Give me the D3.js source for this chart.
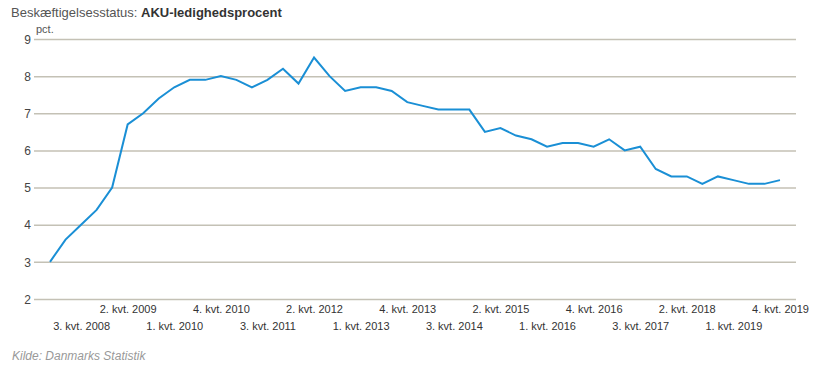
<!DOCTYPE html>
<html><head><meta charset="utf-8">
<script src="https://cdn.jsdelivr.net/npm/d3@7/dist/d3.min.js"></script>
<style>body{margin:0;background:#fff}svg{display:block;font-family:"Liberation Sans",Arial,sans-serif}</style>
</head><body>
<script>
const quarters = [];
for (let y = 2008; y <= 2019; y++) for (let q = 1; q <= 4; q++) quarters.push(q + ". kvt. " + y);
const values = [3.0,3.6,4.0,4.4,5.0,6.7,7.0,7.4,7.7,7.9,7.9,8.0,7.9,7.7,7.9,8.2,
  7.8,8.5,8.0,7.6,7.7,7.7,7.6,7.3,7.2,7.1,7.1,7.1,6.5,6.6,6.4,6.3,
  6.1,6.2,6.2,6.1,6.3,6.0,6.1,5.5,5.3,5.3,5.1,5.3,5.2,5.1,5.1,5.2];
const yTicks = [2,3,4,5,6,7,8,9];
const titleLabel = "Beskæftigelsesstatus:";
const titleValue = "AKU-ledighedsprocent";
const unitLabel = "pct.";
const sourceLabel = "Kilde: Danmarks Statistik";

const W = 820, H = 369;
const svg = d3.select("body").append("svg").attr("width", W).attr("height", H);
const x = d3.scalePoint().domain(quarters).range([50, 780]);
const y = d3.scaleLinear().domain([2, 9]).range([299, 39]);

svg.append("text").attr("x", 11).attr("y", 17).attr("font-size", 13).attr("fill", "#555").text(titleLabel);
svg.append("text").attr("x", 141).attr("y", 17).attr("font-size", 13).attr("font-weight", "bold").attr("fill", "#333").text(titleValue);

// gridlines + y labels
const yAxis = d3.axisLeft(y).tickValues(yTicks).tickSize(-(796 - 34)).tickFormat(d3.format("d")).tickPadding(3);
const ga = svg.append("g").attr("transform", "translate(34,0)").call(yAxis);
ga.select(".domain").remove();
ga.selectAll(".tick line").attr("stroke", "#c4c1b5").attr("stroke-width", 1.5);
ga.selectAll(".tick text").attr("fill", "#444").attr("font-size", 12).attr("font-family", "Liberation Sans, Arial, sans-serif").attr("dy", "0.35em");

svg.append("text").attr("x", 36).attr("y", 33).attr("font-size", 11).attr("fill", "#555").text(unitLabel);

// x labels: every 3rd quarter starting 3. kvt. 2008, alternating rows
const tickQs = quarters.filter((d, i) => i >= 2 && (i - 2) % 3 === 0);
const xAxis = d3.axisBottom(x).tickValues(tickQs).tickSize(0).tickPadding(0);
const gx = svg.append("g").attr("transform", "translate(0,300)").call(xAxis);
gx.select(".domain").remove();
gx.selectAll(".tick text")
  .attr("font-size", 11).attr("fill", "#333").attr("font-family", "Liberation Sans, Arial, sans-serif")
  .attr("dy", null)
  .attr("y", (d, i) => i % 2 === 0 ? 30 : 13);

const line = d3.line().x((d, i) => x(quarters[i])).y(d => y(d));
svg.append("path").datum(values).attr("d", line).attr("fill", "none")
  .attr("stroke", "#1a8fd5").attr("stroke-width", 2).attr("stroke-linejoin", "miter");

svg.append("text").attr("x", 12).attr("y", 360).attr("font-size", 12).attr("font-style", "italic")
  .attr("fill", "#999").text(sourceLabel);
</script>
</body></html>
